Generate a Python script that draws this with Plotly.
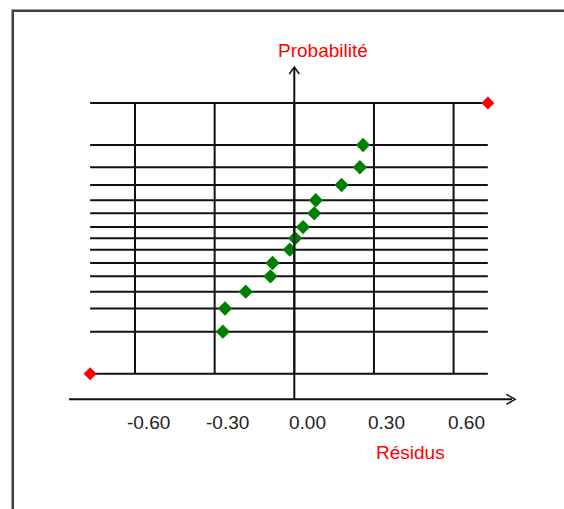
import plotly.graph_objects as go

# ---- data ----
residus = [0.259, 0.247, 0.178, 0.081, 0.075, 0.033, 0.003,
           -0.017, -0.082, -0.090, -0.183, -0.261, -0.269]
# normal scores (probability scale) of each residual
scores = [1.465, 1.115, 0.837, 0.597, 0.392, 0.177, 0.0,
          -0.179, -0.388, -0.597, -0.838, -1.102, -1.466]
# extreme reference points (red)
ext_x = [-0.769, 0.729]
ext_y = [-2.125, 2.125]
x_ticks = [-0.60, -0.30, 0.00, 0.30, 0.60]
x_title = "Résidus"
y_title = "Probabilité"

W, H = 564, 509
# pixel mapping used only to set axis ranges
PX_PER_X = 265.5
X0_PX = 294.3
PX_PER_Y = 63.7
Y0_PX = 238.3
xr = [(0 - X0_PX) / PX_PER_X, (W - X0_PX) / PX_PER_X]
yr = [(Y0_PX - H) / PX_PER_Y, (Y0_PX - 0) / PX_PER_Y]

def xv(px):
    return (px - X0_PX) / PX_PER_X

def yv(py):
    return (Y0_PX - py) / PX_PER_Y

fig = go.Figure()

shapes = []
grid_line = dict(color="#111111", width=2)
levels = sorted(set(scores + ext_y))
x_left, x_right = min(ext_x), max(ext_x)
for z in levels:
    shapes.append(dict(type="line", xref="x", yref="y", x0=x_left, x1=x_right,
                       y0=z, y1=z, line=grid_line, layer="below"))
y_bot, y_top = min(ext_y), max(ext_y)
for t in x_ticks:
    shapes.append(dict(type="line", xref="x", yref="y", x0=t, x1=t,
                       y0=y_bot, y1=y_top, line=grid_line, layer="below"))

# axes with arrows
ax_y = yv(399.3)
ax_x_left, ax_x_right = xv(69), xv(512)
y_axis_top = yv(67)
axis_line = dict(color="#111111", width=2)
shapes.append(dict(type="line", xref="x", yref="y", x0=ax_x_left, x1=ax_x_right,
                   y0=ax_y, y1=ax_y, line=axis_line))
shapes.append(dict(type="line", xref="x", yref="y", x0=0, x1=0,
                   y0=ax_y, y1=y_axis_top, line=axis_line))
# '>' arrow on x axis
dx, dy = 7 / PX_PER_X, 5 / PX_PER_Y
shapes.append(dict(type="path", xref="x", yref="y",
                   path=f"M {ax_x_right - dx + 0.005},{ax_y + dy} L {ax_x_right + 0.012},{ax_y} L {ax_x_right - dx + 0.005},{ax_y - dy}",
                   line=dict(color="#111111", width=1.5)))
# '^' arrow on y axis
dx2, dy2 = 5 / PX_PER_X, 7 / PX_PER_Y
shapes.append(dict(type="path", xref="x", yref="y",
                   path=f"M {-dx2},{y_axis_top - dy2} L 0,{y_axis_top} L {dx2},{y_axis_top - dy2}",
                   line=dict(color="#111111", width=1.5)))

# frame (sunken border)
shapes.append(dict(type="rect", xref="paper", yref="paper",
                   x0=11.5 / W, x1=1.2, y0=-0.2, y1=1 - 9.5 / H,
                   line=dict(color="#a0a0a0", width=1)))
shapes.append(dict(type="rect", xref="paper", yref="paper",
                   x0=13 / W, x1=1.2, y0=-0.2, y1=1 - 11 / H,
                   line=dict(color="#404040", width=2)))

fig.add_trace(go.Scatter(x=residus, y=scores, mode="markers",
                         marker=dict(symbol="diamond", size=11, color="#008000"),
                         hoverinfo="x+y", showlegend=False))
fig.add_trace(go.Scatter(x=ext_x, y=ext_y, mode="markers",
                         marker=dict(symbol="diamond", size=10, color="#ff0000"),
                         hoverinfo="x+y", showlegend=False))

font = dict(family="Liberation Sans, Arial, sans-serif", size=19, color="#222222")
annotations = []
for t in x_ticks:
    annotations.append(dict(x=t, y=ax_y, xref="x", yref="y", text=f"{t:.2f}",
                            showarrow=False, xshift=13, yshift=-23, font=font,
                            xanchor="center", yanchor="middle"))
annotations.append(dict(x=xv(410.5), y=yv(452), xref="x", yref="y", text=x_title,
                        showarrow=False, font=dict(family=font["family"], size=19, color="#ff0000"),
                        xanchor="center", yanchor="middle"))
annotations.append(dict(x=xv(322.5), y=yv(50.5), xref="x", yref="y", text=y_title,
                        showarrow=False, font=dict(family=font["family"], size=19, color="#ff0000"),
                        xanchor="center", yanchor="middle"))

fig.update_layout(
    width=W, height=H,
    margin=dict(l=0, r=0, t=0, b=0),
    paper_bgcolor="white", plot_bgcolor="white",
    xaxis=dict(range=xr, visible=False, fixedrange=True),
    yaxis=dict(range=yr, visible=False, fixedrange=True),
    shapes=shapes, annotations=annotations,
    showlegend=False,
)
fig.write_html("out.html", config={"displayModeBar": False})
